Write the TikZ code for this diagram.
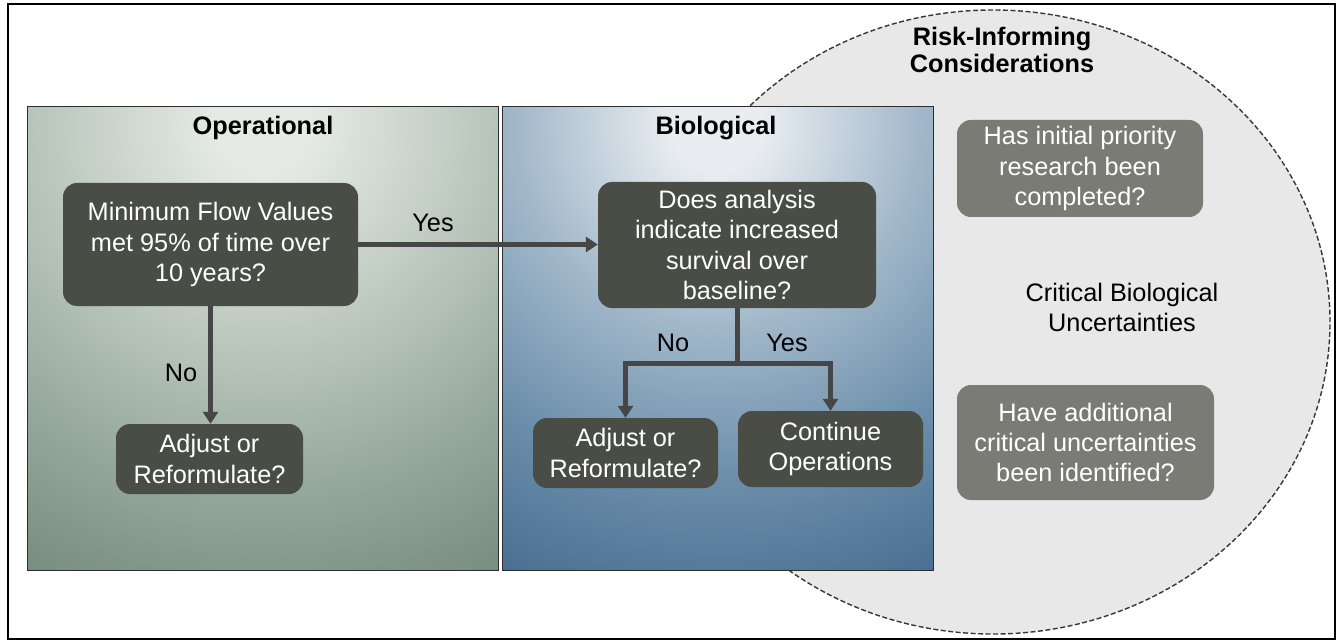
\documentclass[tikz,border=0pt]{standalone}
\usepackage{fontspec}
\setmainfont{Liberation Sans}
\usetikzlibrary{arrows.meta}
\definecolor{decfill}{RGB}{74,77,69}
\definecolor{riskfill}{RGB}{122,123,116}
\definecolor{ellfill}{RGB}{232,232,232}
\definecolor{ellborder}{RGB}{55,55,55}
\definecolor{arr}{RGB}{70,70,70}
\definecolor{boxedge}{RGB}{45,45,45}
\definecolor{opA}{RGB}{229,234,230}
\definecolor{opB}{RGB}{190,202,192}
\definecolor{opC}{RGB}{150,168,155}
\definecolor{opD}{RGB}{106,129,113}
\definecolor{bioA}{RGB}{233,237,241}
\definecolor{bioB}{RGB}{162,184,202}
\definecolor{bioC}{RGB}{106,141,170}
\definecolor{bioD}{RGB}{58,97,132}
\pgfdeclareradialshading{opshade}{\pgfpoint{0bp}{0bp}}{color(0bp)=(opA); color(2bp)=(opA); color(9bp)=(opB); color(16bp)=(opC); color(25bp)=(opD); color(50bp)=(opD)}
\pgfdeclareradialshading{bioshade}{\pgfpoint{0bp}{0bp}}{color(0bp)=(bioA); color(2bp)=(bioA); color(9bp)=(bioB); color(16bp)=(bioC); color(25bp)=(bioD); color(50bp)=(bioD)}
\begin{document}
\begin{tikzpicture}[x=1pt,y=-1pt,
  txt/.style={font=\fontsize{25.3}{30.4}\selectfont, align=center, inner sep=0pt},
  dec/.style={txt, fill=decfill, text=white, rounded corners=14pt},
  risk/.style={txt, fill=riskfill, text=white, rounded corners=14pt},
  lbl/.style={txt, text=black},
  hdr/.style={txt, font=\fontsize{25.3}{27.5}\selectfont\bfseries},
  plain/.style={draw=arr, line width=5pt},
  flow/.style={plain, -{Triangle[width=15pt,length=12pt]}},
  panel/.style={draw=boxedge, line width=1pt},
]
\useasboundingbox (0,0) rectangle (1343,644);
\fill[white] (0,0) rectangle (1343,644);
\draw[black, line width=2.5pt] (8,4) rectangle (1335,639);

% risk-informing ellipse
\draw[fill=ellfill, draw=ellborder, line width=1.4pt, dash pattern=on 5pt off 2.5pt]
  (993,322) ellipse [x radius=337pt, y radius=312pt];

% operational panel
\begin{scope}
  \clip (27,107) rectangle (498,570);
  \shade[shading=opshade] (263,125) circle (570pt);
\end{scope}
\draw[panel] (27,107) rectangle (498,570);

% biological panel
\begin{scope}
  \clip (502,107) rectangle (933,570);
  \shade[shading=bioshade] (717,125) circle (560pt);
\end{scope}
\draw[panel] (502,107) rectangle (933,570);

\node[hdr] (ophdr) at (263,128) {Operational};
\node[hdr] (biohdr) at (716,128) {Biological};
\node[hdr] (riskhdr) at (1002,50) {Risk-Informing\\Considerations};

\node[dec, minimum width=295pt, minimum height=123pt] (q1) at (210.5,244.5) {Minimum Flow Values\\met 95\% of time over\\10 years?};
\node[dec, minimum width=187pt, minimum height=70pt] (a1) at (209.5,459) {Adjust or\\Reformulate?};
\node[dec, minimum width=278pt, minimum height=126pt] (q2) at (737,245) {Does analysis\\indicate increased\\survival over\\baseline?};
\node[dec, minimum width=185pt, minimum height=70pt] (a2) at (625.5,453) {Adjust or\\Reformulate?};
\node[dec, minimum width=185pt, minimum height=76pt] (c2) at (830.5,449) {Continue\\Operations};

\node[risk, minimum width=246pt, minimum height=97pt] (r1) at (1080,168.5) {Has initial priority\\research been\\completed?};
\node[lbl] (crit) at (1122,307.5) {Critical Biological\\Uncertainties};
\node[risk, minimum width=257pt, minimum height=115pt] (r2) at (1085.5,442.5) {Have additional\\critical uncertainties\\been identified?};

% connectors
\draw[flow] (q1.south) -- (q1.south |- a1.north);
\draw[flow] (q1.east) -- (q1.east -| q2.west);
\coordinate (split) at (q2.south |- 0,363);
\draw[plain] (q2.south) -- (split);
\draw[flow] (split) -| (a2.north);
\draw[flow] (split) -| (c2.north);

\node[lbl] (no1) at (181,373) {No};
\node[lbl] (yes1) at (433,223) {Yes};
\node[lbl] (no2) at (673,343) {No};
\node[lbl] (yes2) at (787,343) {Yes};
\end{tikzpicture}
\end{document}
